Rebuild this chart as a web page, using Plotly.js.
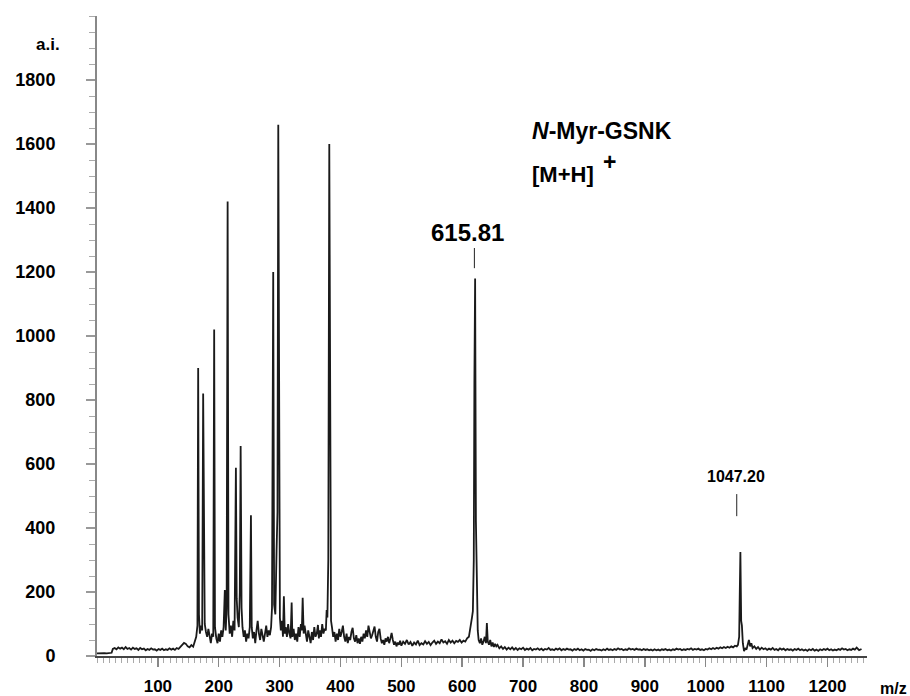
<!DOCTYPE html>
<html>
<head>
<meta charset="utf-8">
<script src="https://cdn.plot.ly/plotly-3.0.1.min.js"></script>
<style>html,body{margin:0;padding:0;background:#fff;}#chart{width:910px;height:696px;}</style>
</head>
<body>
<div id="chart"></div>
<script>
// Spectrum: [m/z, intensity (a.i.)]
const lowMassRegion = [[0,8],[4,9],[8,8],[12,9],[16,8],[20,9],[24,10],[26,22],[29,25],[32,21],[35,27],[38,23],[41,26],[44,21],[47,28],[50,22],[53,25],[56,20],[59,26],[62,22],[65,24],[68,19],[71,25],[74,21],[77,23],[80,18],[83,22],[86,19],[89,24],[92,20],[95,21],[98,17],[101,22],[104,19],[107,23],[110,18],[113,21],[116,19],[119,24],[122,20],[125,23],[128,19],[131,25],[134,22],[137,28],[140,33],[143,41],[146,38],[149,30],[152,27],[155,34],[158,29],[161,45],[163,60]];

const fragmentRegion = [[165,95],[166.2,900],[167.5,130],[169,70],[171,95],[172.8,80],[174.4,820],[175.8,180],[177,100],[179,75],[181,60],[183,85],[185,55],[187,40],[189,70],[191,60],[192.5,1020],[193.8,90],[196,55],[198,40],[200,70],[202,45],[204,80],[206,60],[208,90],[210,206],[211.5,80],[213,150],[214.6,1420],[216,130],[218,70],[220,95],[222,60],[224,110],[226,80],[228.2,588],[229.5,180],[231,120],[233,90],[234.6,200],[236,656],[237.5,150],[239,90],[241,60],[243,80],[245,45],[247,70],[249,55],[251,90],[252.9,440],[254.2,90],[256,55],[258,75],[260,40],[262,80],[264,110],[266,70],[268,50],[270,85],[272,60],[274,45],[276,70],[278,95],[280,60],[282,80],[284,65],[286,90],[287.5,150],[289.5,1200],[291,160],[293,130],[295,330],[296.5,450],[297.8,1660],[299,400],[300.5,120],[302,80],[304,110],[305.5,60],[307,187],[308.5,70],[310,90],[312,60],[314,100],[316,70],[318,55],[319.8,167],[321,60],[323,85],[325,50],[327,70],[329,45],[331,90],[333,60],[335,100],[336.5,80],[337.9,182],[339.5,70],[341,95],[343,60],[345,45],[347,80],[349,55],[351,40],[353,75],[355,50],[357,90],[359,60],[361,70],[363,97],[364.5,55],[366,80],[368,60],[370,100],[372,70],[374,85],[376,80],[377.3,144],[378.5,120],[380,300],[381.6,1600],[383,380],[384.5,110],[386,90],[388,60],[390,75],[392,45],[394,70],[396,50],[398,85]];

const midRegion = [[400,60],[402,75],[404,95],[406,60],[408,45],[410,70],[412,40],[414,60],[416,50],[418,75],[420,88],[422,55],[424,45],[426,65],[428,40],[430,55],[432,38],[434,60],[436,45],[438,70],[440,55],[442,80],[444,60],[446,95],[448,70],[450,55],[452,65],[454,80],[456,92],[458,60],[460,45],[462,75],[464,85],[466,55],[468,40],[470,50],[472,35],[474,55],[476,45],[478,60],[480,40],[482,55],[484,72],[486,50],[488,35],[490,45],[492,30],[494,42],[496,35],[498,48],[500,32],[503,45],[506,38],[509,50],[512,36],[515,44],[518,32],[521,42],[524,36],[527,48],[530,34],[533,40],[536,36],[539,46],[542,38],[545,44],[548,34],[551,42],[554,48],[557,38],[560,45],[563,40],[566,52],[569,42],[572,46],[575,38],[578,50],[581,42],[584,48],[587,40],[590,47],[593,44],[596,50],[599,42],[602,48],[605,45],[608,55],[611,60],[614,90]];

const molecularIonRegion = [[616,120],[617.5,140],[619,300],[620,860],[621.2,1180],[622.5,420],[624,200],[625.5,80],[627,50],[629,40],[631,55],[633,35],[635,45],[637,60],[639,40],[640.5,103],[642,45],[644,35],[646,50],[648,30],[650,42],[652,28],[654,38],[656,30],[658,35],[661,24],[664,30],[667,22],[670,28],[673,20],[676,26]];

const highMassRegion = [[679,21],[682,27],[685,20],[688,25],[691,19],[694,24],[697,21],[700,26],[703,19],[706,23],[709,20],[712,25],[715,18],[718,22],[721,20],[724,24],[727,19],[730,23],[733,18],[736,22],[739,20],[742,25],[745,19],[748,21],[751,18],[754,23],[757,20],[760,24],[763,18],[766,22],[769,19],[772,23],[775,20],[778,21],[781,17],[784,22],[787,19],[790,23],[793,18],[796,21],[799,17],[802,22],[805,19],[808,20],[811,16],[814,21],[817,18],[820,22],[823,19],[826,20],[829,17],[832,21],[835,18],[838,23],[841,19],[844,21],[847,18],[850,22],[853,19],[856,24],[859,20],[862,22],[865,18],[868,21],[871,19],[874,24],[877,20],[880,22],[883,19],[886,23],[889,20],[892,21],[895,18],[898,22],[901,19],[904,21],[907,18],[910,20],[913,17],[916,21],[919,18],[922,20],[925,17],[928,21],[931,19],[934,22],[937,18],[940,20],[943,17],[946,21],[949,19],[952,23],[955,20],[958,22],[961,18],[964,21],[967,19],[970,22],[973,20],[976,24],[979,19],[982,22],[985,20],[988,23],[991,19],[994,21],[997,18],[1000,22],[1003,20],[1006,24],[1009,21],[1012,25],[1015,22],[1018,26],[1021,23],[1024,27],[1027,24],[1030,28],[1033,25],[1036,29],[1039,26],[1042,30],[1045,27],[1048,32],[1051,30],[1053,35]];

const dimerRegion = [[1055,60],[1056,200],[1057,325],[1058.3,110],[1059.5,95],[1061,40],[1063,15],[1065,25],[1067,20],[1069,35],[1071,50],[1073,30],[1075,40],[1077,25],[1080,30],[1083,22],[1086,28],[1089,20],[1092,26],[1095,21],[1098,24],[1101,19],[1104,23],[1107,20],[1110,25],[1113,19],[1116,22],[1119,18],[1122,24],[1125,20],[1128,23],[1131,18],[1134,22],[1137,19],[1140,21],[1143,17],[1146,22],[1149,19],[1152,23],[1155,18],[1158,21],[1161,17],[1164,20],[1167,16],[1170,21],[1173,18],[1176,22],[1179,17],[1182,20],[1185,16],[1188,21],[1191,18],[1194,22],[1197,19],[1200,23],[1203,18],[1206,21],[1209,17],[1212,20],[1215,18],[1218,22],[1221,19],[1224,24],[1227,20],[1230,22],[1233,18],[1236,21],[1239,19],[1242,23],[1245,20],[1248,26],[1252,18],[1256,22]];

// Labelled peaks
const peakLabels = ['615.81', '1047.20'];
const peakLabelMz = [620, 1051];
const peakLabelY = [1325, 560];
const peakTickY0 = [1212, 437];
const peakTickY1 = [1275, 506];

const xTicks = [100,200,300,400,500,600,700,800,900,1000,1100,1200];
const yTicks = [0,200,400,600,800,1000,1200,1400,1600,1800];

const spectrum = [].concat(lowMassRegion, fragmentRegion, midRegion, molecularIonRegion, highMassRegion, dimerRegion);
const mz = spectrum.map(p => p[0]);
const intensity = spectrum.map(p => p[1]);

const FONT = 'Liberation Sans, Arial, Helvetica, sans-serif';

const trace = {
  type: 'scatter', mode: 'lines', x: mz, y: intensity,
  line: {color: '#1a1a1a', width: 1.8}, hoverinfo: 'skip', showlegend: false
};

const annotations = [
  {xref:'paper', yref:'paper', x:-0.0636, y:0.955, text:'a.i.', showarrow:false, xanchor:'center', yanchor:'middle', font:{family:FONT, size:17, color:'#000', weight:700}},
  {xref:'paper', yref:'paper', x:1.034, y:-0.050, text:'m/z', showarrow:false, xanchor:'center', yanchor:'middle', font:{family:FONT, size:16, color:'#000', weight:700}},
  {xref:'paper', yref:'paper', x:0.5623, y:0.820, text:'<i>N</i>-Myr-GSNK', showarrow:false, xanchor:'left', yanchor:'middle', font:{family:FONT, size:23, color:'#000', weight:700}},
  {xref:'paper', yref:'paper', x:0.5623, y:0.753, text:'[M+H]', showarrow:false, xanchor:'left', yanchor:'middle', font:{family:FONT, size:22, color:'#000', weight:700}},
  {xref:'paper', yref:'paper', x:0.665, y:0.772, text:'+', showarrow:false, xanchor:'center', yanchor:'middle', font:{family:FONT, size:23, color:'#000', weight:700}}
];
const shapes = [];
peakLabels.forEach((t, i) => {
  annotations.push({xref:'x', yref:'y', x:peakLabelMz[i] - (i===0 ? 12 : 1), y:peakLabelY[i], text:t, showarrow:false,
    xanchor:'center', yanchor:'middle', font:{family:FONT, size:(i===0 ? 24 : 16), color:'#000', weight:700}});
  shapes.push({type:'line', xref:'x', yref:'y', x0:peakLabelMz[i], x1:peakLabelMz[i], y0:peakTickY0[i], y1:peakTickY1[i], line:{color:'#222', width:1}});
});

const layout = {
  width: 910, height: 696,
  margin: {l: 97, r: 43, t: 16, b: 40, pad: 0},
  paper_bgcolor: '#fff', plot_bgcolor: '#fff',
  showlegend: false,
  xaxis: {
    range: [0, 1265], showgrid: false, zeroline: false,
    showline: true, linecolor: '#444', linewidth: 1.5,
    ticks: 'outside', ticklen: 9, tickwidth: 1.5, tickcolor: '#888',
    tickmode: 'array', tickvals: xTicks, ticktext: xTicks.map(String),
    tickfont: {family: FONT, size: 17, color: '#000', weight: 700},
    ticklabelstandoff: 5,
    minor: {tickmode: 'linear', tick0: 0, dtick: 10, ticks: 'outside', ticklen: 5, tickwidth: 1, tickcolor: '#aaa', showgrid: false}
  },
  yaxis: {
    range: [0, 2000], showgrid: false, zeroline: false,
    showline: true, linecolor: '#888', linewidth: 2,
    ticks: 'outside', ticklen: 9, tickwidth: 1.5, tickcolor: '#999',
    tickmode: 'array', tickvals: yTicks, ticktext: yTicks.map(String),
    tickfont: {family: FONT, size: 18, color: '#000', weight: 700},
    ticklabelstandoff: 27,
    minor: {tickmode: 'linear', tick0: 0, dtick: 50, ticks: 'outside', ticklen: 6, tickwidth: 1, tickcolor: '#aaa', showgrid: false}
  },
  annotations: annotations,
  shapes: shapes
};

Plotly.newPlot('chart', [trace], layout, {displayModeBar: false, staticPlot: true});
</script>
</body>
</html>
